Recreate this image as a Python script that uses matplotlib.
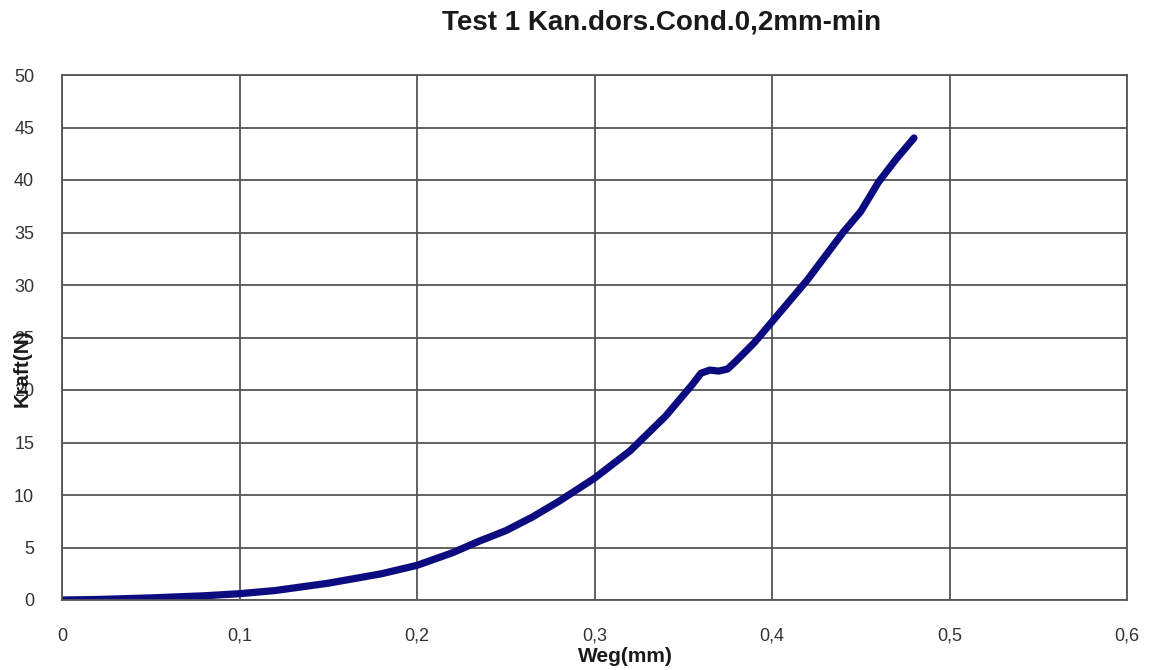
import matplotlib
matplotlib.use("Agg")
import matplotlib.pyplot as plt
from matplotlib.ticker import FuncFormatter

weg = [0.0, 0.02, 0.05, 0.08, 0.1, 0.12, 0.15, 0.18, 0.2, 0.22, 0.235, 0.25, 0.265,
       0.28, 0.3, 0.32, 0.34, 0.355, 0.36, 0.365, 0.37, 0.375, 0.38, 0.39, 0.4,
       0.42, 0.44, 0.45, 0.46, 0.47, 0.48]
kraft = [0.0, 0.05, 0.2, 0.4, 0.6, 0.9, 1.6, 2.5, 3.3, 4.5, 5.6, 6.6, 7.9,
         9.4, 11.6, 14.2, 17.5, 20.5, 21.6, 21.9, 21.8, 22.0, 22.8, 24.5, 26.5,
         30.5, 35.0, 37.0, 39.8, 42.0, 44.0]
xticks = [0, 0.1, 0.2, 0.3, 0.4, 0.5, 0.6]
yticks = [0, 5, 10, 15, 20, 25, 30, 35, 40, 45, 50]

plt.rcParams['font.family'] = ['Liberation Sans', 'DejaVu Sans']
fig = plt.figure(figsize=(11.51, 6.70), dpi=100)
ax = fig.add_axes([62/1151, 1-600/670, (1127-62)/1151, (600-75)/670])

ax.plot(weg, kraft, color='#0c0c80', lw=5.2, solid_capstyle='round', solid_joinstyle='round')
ax.set_xlim(0, 0.6)
ax.set_ylim(0, 50)
ax.set_xticks(xticks)
ax.set_yticks(yticks)
ax.xaxis.set_major_formatter(FuncFormatter(lambda v, p: ('%g' % round(v, 2)).replace('.', ',')))
ax.grid(True, color='#555555', lw=1.3)
ax.set_axisbelow(True)
for s in ax.spines.values():
    s.set_color('#555555')
    s.set_linewidth(1.3)
ax.tick_params(axis='both', length=0, labelsize=13, colors='#333333')
ax.tick_params(axis='x', pad=20)
ax.tick_params(axis='y', pad=20)

fig.text(662/1151, 1-22/670, 'Test 1 Kan.dors.Cond.0,2mm-min', ha='center', va='center',
         fontsize=20, fontweight='bold', color='#1a1a1a')
fig.text(625/1151, 1-657/670, 'Weg(mm)', ha='center', va='center', fontsize=15,
         fontweight='bold', color='#1a1a1a')
fig.text(22/1151, 1-368/670, 'Kraft(N)', ha='center', va='center', rotation=90,
         fontsize=15, fontweight='bold', color='#1a1a1a')

fig.savefig('out.png', dpi=100, facecolor='white')
